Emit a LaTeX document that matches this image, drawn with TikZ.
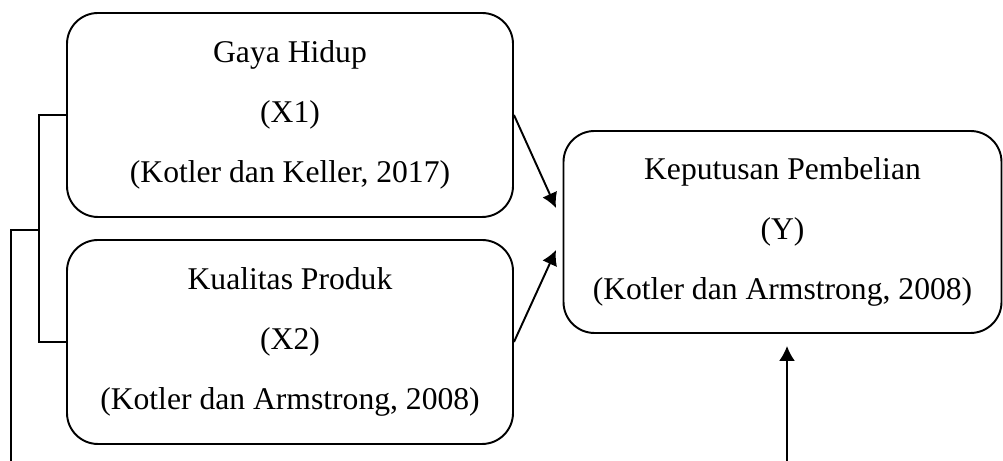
\documentclass[tikz,border=0pt]{standalone}
\usepackage{fontspec}
\setmainfont{Liberation Serif}
\usetikzlibrary{positioning,arrows.meta,calc}
\tikzset{varbox/.style={draw, line width=1.1pt, rounded corners=0.62cm, align=center,
      font=\fontsize{18}{34}\selectfont, inner sep=0pt},
   panah/.style={line width=1.1pt, -{Latex[length=3mm,width=3.2mm]}}}

\begin{document}
\begin{tikzpicture}
  \useasboundingbox (0,0) rectangle (20.06,9.22);
       % variabel bebas
   \node [varbox, minimum width=8.92cm, minimum height=4.08cm] (gaya) at (5.8,6.92)
        {Gaya Hidup\\(X1)\\(Kotler dan Keller, 2017)};
   \node [varbox, minimum width=8.92cm, minimum height=4.08cm] (kualitas) at (5.8,2.38)
        {Kualitas Produk\\(X2)\\(Kotler dan Armstrong, 2008)};
       % variabel terikat
   \node [varbox, minimum width=8.76cm, minimum height=4.04cm] (keputusan) at (15.65,4.58)
        {Keputusan Pembelian\\(Y)\\(Kotler dan Armstrong, 2008)};
   \coordinate (masukA) at (11.12,5.06);
   \coordinate (masukB) at (11.12,4.22);
   \coordinate (kurung) at (0.78,4.62);
   \coordinate (kiribawah) at (0.22,0);
   \coordinate (kananbawah) at (15.74,0);
       % panah
   \draw [panah] (gaya.east) -- (masukA);
   \draw [panah] (kualitas.east) -- (masukB);
   \draw [panah, shorten >=0.24cm] (kananbawah) -- (kananbawah |- keputusan.south);
       % kurung kiri
   \draw [line width=1.1pt] (gaya.west) -- (gaya.west -| kurung) -- (kualitas.west -| kurung) -- (kualitas.west);
   \draw [line width=1.1pt] (kurung) -| (kiribawah);
\end{tikzpicture}
\end{document}
